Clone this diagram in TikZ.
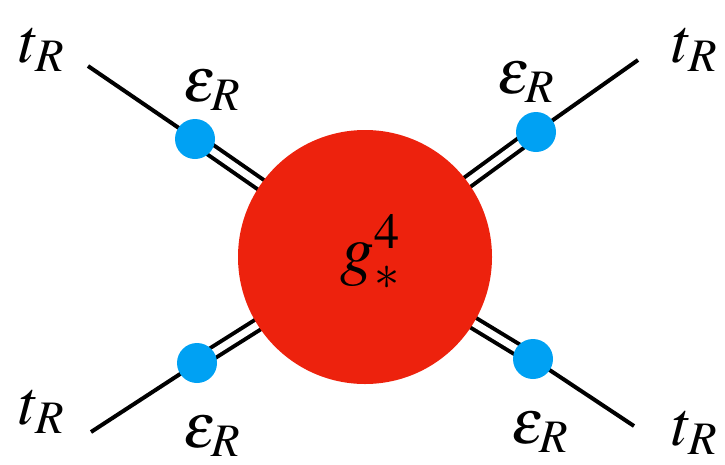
\documentclass[tikz,border=0pt]{standalone}
\usepackage{mathptmx}
\usetikzlibrary{backgrounds}
\definecolor{blobred}{RGB}{237,34,13}
\definecolor{dotblue}{RGB}{0,161,243}
\tikzset{
  blob/.style={circle, fill=blobred, minimum size=254pt, inner sep=0pt},
  bluedot/.style={circle, fill=dotblue, minimum size=40pt, inner sep=0pt},
  leg/.style={line width=4pt, black},
  dleg/.style={line width=4pt, black, double=white, double distance=7pt},
  lab/.style={inner sep=0pt, font=\fontsize{63}{66}\selectfont},
  biglab/.style={inner sep=0pt, font=\fontsize{68}{72}\selectfont}
}
\begin{document}
\begin{tikzpicture}[x=1pt,y=-1pt]
\useasboundingbox (0,0) rectangle (725,464);
\node[blob] (G) at (365,257) {};
\node[biglab] (g) at (370,252) {$g_*^4$};
\node[bluedot] (e1) at (195,139) {};
\node[bluedot] (e2) at (536,132) {};
\node[bluedot] (e3) at (197,363) {};
\node[bluedot] (e4) at (533,359) {};
\coordinate (s1) at (88,66);
\coordinate (s2) at (638,60);
\coordinate (s3) at (91,432);
\coordinate (s4) at (634,426);
\begin{scope}[on background layer]
\draw[leg] (s1) -- (e1.center);
\draw[leg] (s2) -- (e2.center);
\draw[leg] (s3) -- (e3.center);
\draw[leg] (s4) -- (e4.center);
\draw[dleg] (e1.center) -- (G.center);
\draw[dleg] (e2.center) -- (G.center);
\draw[dleg] (e3.center) -- (G.center);
\draw[dleg] (e4.center) -- (G.center);
\end{scope}
\node[lab] (t1) at (42,50) {$t_R$};
\node[lab] (t2) at (695,50) {$t_R$};
\node[lab] (t3) at (42,412) {$t_R$};
\node[lab] (t4) at (695,433) {$t_R$};
\node[lab] (p1) at (212,90) {$\varepsilon_R$};
\node[lab] (p2) at (526,82) {$\varepsilon_R$};
\node[lab] (p3) at (212,436) {$\varepsilon_R$};
\node[lab] (p4) at (540,432) {$\varepsilon_R$};
\end{tikzpicture}
\end{document}
